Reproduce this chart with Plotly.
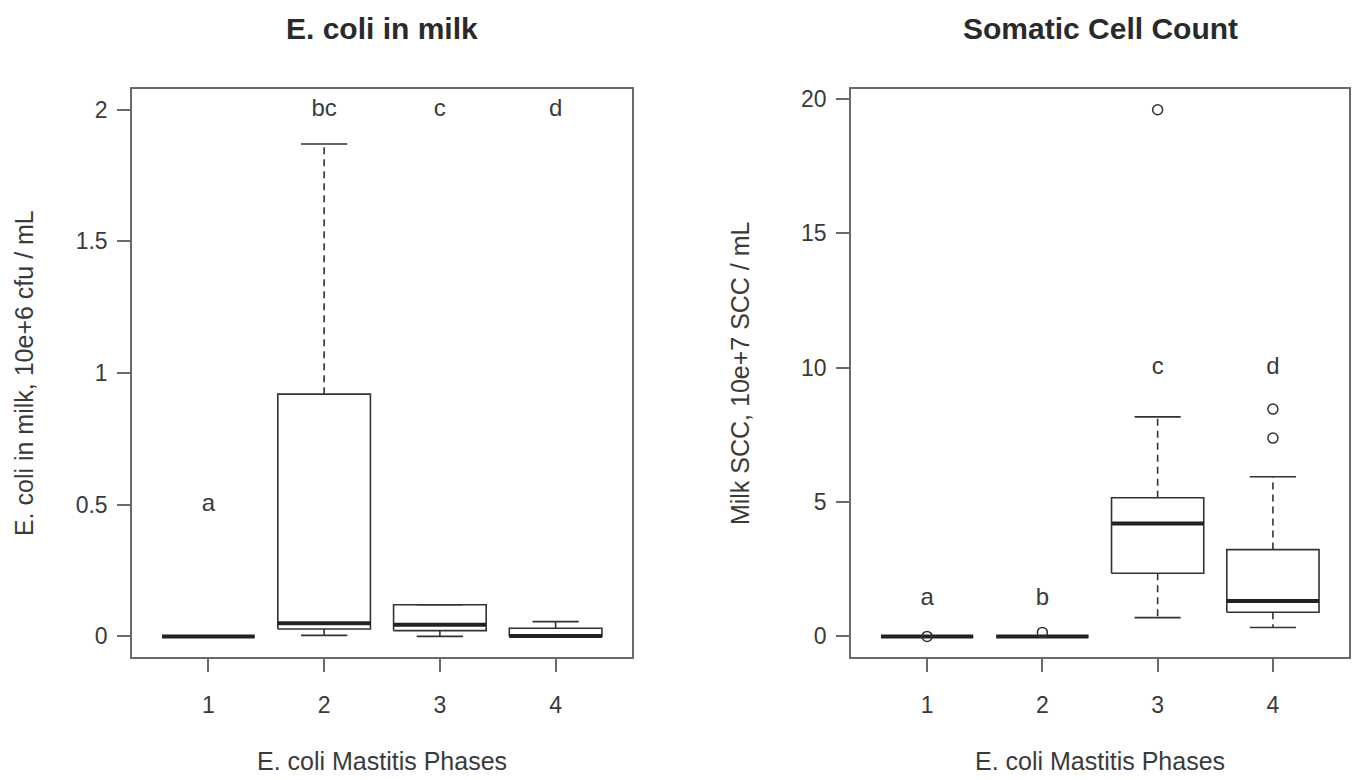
import plotly.graph_objects as go

# ---------------- data ----------------
groups = [1, 2, 3, 4]
tick_labels = ["1", "2", "3", "4"]

# E. coli in milk (10e+6 cfu / mL)
ecoli_lower = [0.0, 0.004, 0.0, 0.0]
ecoli_q1 = [0.0, 0.028, 0.022, 0.0]
ecoli_median = [0.0, 0.05, 0.044, 0.002]
ecoli_q3 = [0.0, 0.92, 0.12, 0.031]
ecoli_upper = [0.0, 1.87, 0.12, 0.056]
ecoli_outlier_x = []
ecoli_outlier_y = []
ecoli_letters = ["a", "bc", "c", "d"]
ecoli_letter_y = [0.5, 2.0, 2.0, 2.0]

# Somatic cell count (10e+7 SCC / mL)
scc_lower = [0.0, 0.0, 0.70, 0.33]
scc_q1 = [0.0, 0.0, 2.35, 0.90]
scc_median = [0.0, 0.0, 4.20, 1.32]
scc_q3 = [0.0, 0.0, 5.16, 3.23]
scc_upper = [0.0, 0.0, 8.17, 5.94]
scc_outlier_x = [1, 2, 3, 4, 4]
scc_outlier_y = [0.0, 0.15, 19.6, 8.46, 7.38]
scc_letters = ["a", "b", "c", "d"]
scc_letter_y = [1.4, 1.4, 10.0, 10.0]

# ---------------- style ----------------
FONT = "Liberation Sans, Arial, sans-serif"
TXT = "#3a3a3a"
BOXC = "#333333"
FRAME = "#6a6a6a"
HW = 0.4      # half box width
SW = 0.2      # half staple width


def box_traces(xa, ya, lower, q1, med, q3, upper, ox, oy, letters, ly):
    bx, by, mx, my, wx, wy, sx, sy = [], [], [], [], [], [], [], []
    for g, lo, a, m, b, up in zip(groups, lower, q1, med, q3, upper):
        bx += [g - HW, g + HW, g + HW, g - HW, g - HW, None]
        by += [a, a, b, b, a, None]
        mx += [g - HW, g + HW, None]
        my += [m, m, None]
        wx += [g, g, None, g, g, None]
        wy += [b, up, None, a, lo, None]
        sx += [g - SW, g + SW, None, g - SW, g + SW, None]
        sy += [up, up, None, lo, lo, None]
    common = dict(xaxis=xa, yaxis=ya, showlegend=False, hoverinfo="skip")
    return [
        go.Scatter(x=wx, y=wy, mode="lines",
                   line=dict(color=BOXC, width=1.6, dash="7px,5px"), **common),
        go.Scatter(x=sx, y=sy, mode="lines",
                   line=dict(color=BOXC, width=1.6), **common),
        go.Scatter(x=bx, y=by, mode="lines",
                   line=dict(color=BOXC, width=1.6), **common),
        go.Scatter(x=mx, y=my, mode="lines",
                   line=dict(color="#222222", width=4), **common),
        go.Scatter(x=ox, y=oy, mode="markers",
                   marker=dict(symbol="circle-open", size=10,
                               color="#333333", line=dict(width=1.5)), **common),
        go.Scatter(x=groups, y=ly, mode="text", text=letters,
                   textfont=dict(family=FONT, size=24, color=TXT), **common),
    ]


fig = go.Figure()
for t in box_traces("x", "y", ecoli_lower, ecoli_q1, ecoli_median, ecoli_q3,
                    ecoli_upper, ecoli_outlier_x, ecoli_outlier_y,
                    ecoli_letters, ecoli_letter_y):
    fig.add_trace(t)
for t in box_traces("x2", "y2", scc_lower, scc_q1, scc_median, scc_q3,
                    scc_upper, scc_outlier_x, scc_outlier_y,
                    scc_letters, scc_letter_y):
    fig.add_trace(t)

W, H = 1352, 780
dom_x1 = [132 / W, 632 / W]
dom_x2 = [851 / W, 1349 / W]
dom_y = [(H - 657) / H, (H - 86) / H]

axis_common = dict(showgrid=False, zeroline=False, showline=True, mirror=True,
                   linecolor=FRAME, linewidth=1.5, ticks="outside", ticklen=13,
                   tickwidth=1.5, tickcolor=FRAME,
                   tickfont=dict(family=FONT, size=23, color=TXT))

fig.update_layout(
    width=W, height=H,
    margin=dict(l=0, r=0, t=0, b=0),
    paper_bgcolor="white", plot_bgcolor="white",
    xaxis=dict(domain=dom_x1, anchor="y", range=[0.34, 4.66],
               tickvals=groups, ticktext=tick_labels, ticklabelstandoff=13,
               **axis_common),
    yaxis=dict(domain=dom_y, anchor="x", range=[-0.08, 2.08],
               tickvals=[0, 0.5, 1, 1.5, 2],
               ticktext=["0", "0.5", "1", "1.5", "2"], ticklabelstandoff=5,
               **axis_common),
    xaxis2=dict(domain=dom_x2, anchor="y2", range=[0.34, 4.66],
                tickvals=groups, ticktext=tick_labels, ticklabelstandoff=13,
                **axis_common),
    yaxis2=dict(domain=dom_y, anchor="x2", range=[-0.784, 20.384],
                tickvals=[0, 5, 10, 15, 20], ticklabelstandoff=5,
                **axis_common),
)

ann_font = dict(family=FONT, size=25, color=TXT)
title_font = dict(family=FONT, size=30, color="#2a2a2a")
annotations = [
    dict(text="<b>E. coli in milk</b>", x=sum(dom_x1) / 2, y=1 - 26 / H,
         font=title_font),
    dict(text="<b>Somatic Cell Count</b>", x=sum(dom_x2) / 2, y=1 - 26 / H,
         font=title_font),
    dict(text="E. coli Mastitis Phases", x=sum(dom_x1) / 2, y=1 - 761 / H,
         font=ann_font),
    dict(text="E. coli Mastitis Phases", x=sum(dom_x2) / 2, y=1 - 761 / H,
         font=ann_font),
    dict(text="E. coli in milk, 10e+6 cfu / mL", x=24 / W, y=sum(dom_y) / 2,
         textangle=-90, font=ann_font),
    dict(text="Milk SCC, 10e+7 SCC / mL", x=740 / W, y=sum(dom_y) / 2,
         textangle=-90, font=ann_font),
]
for a in annotations:
    a.update(xref="paper", yref="paper", showarrow=False,
             xanchor="center", yanchor="middle")
fig.update_layout(annotations=annotations)

fig.write_html("out.html")
